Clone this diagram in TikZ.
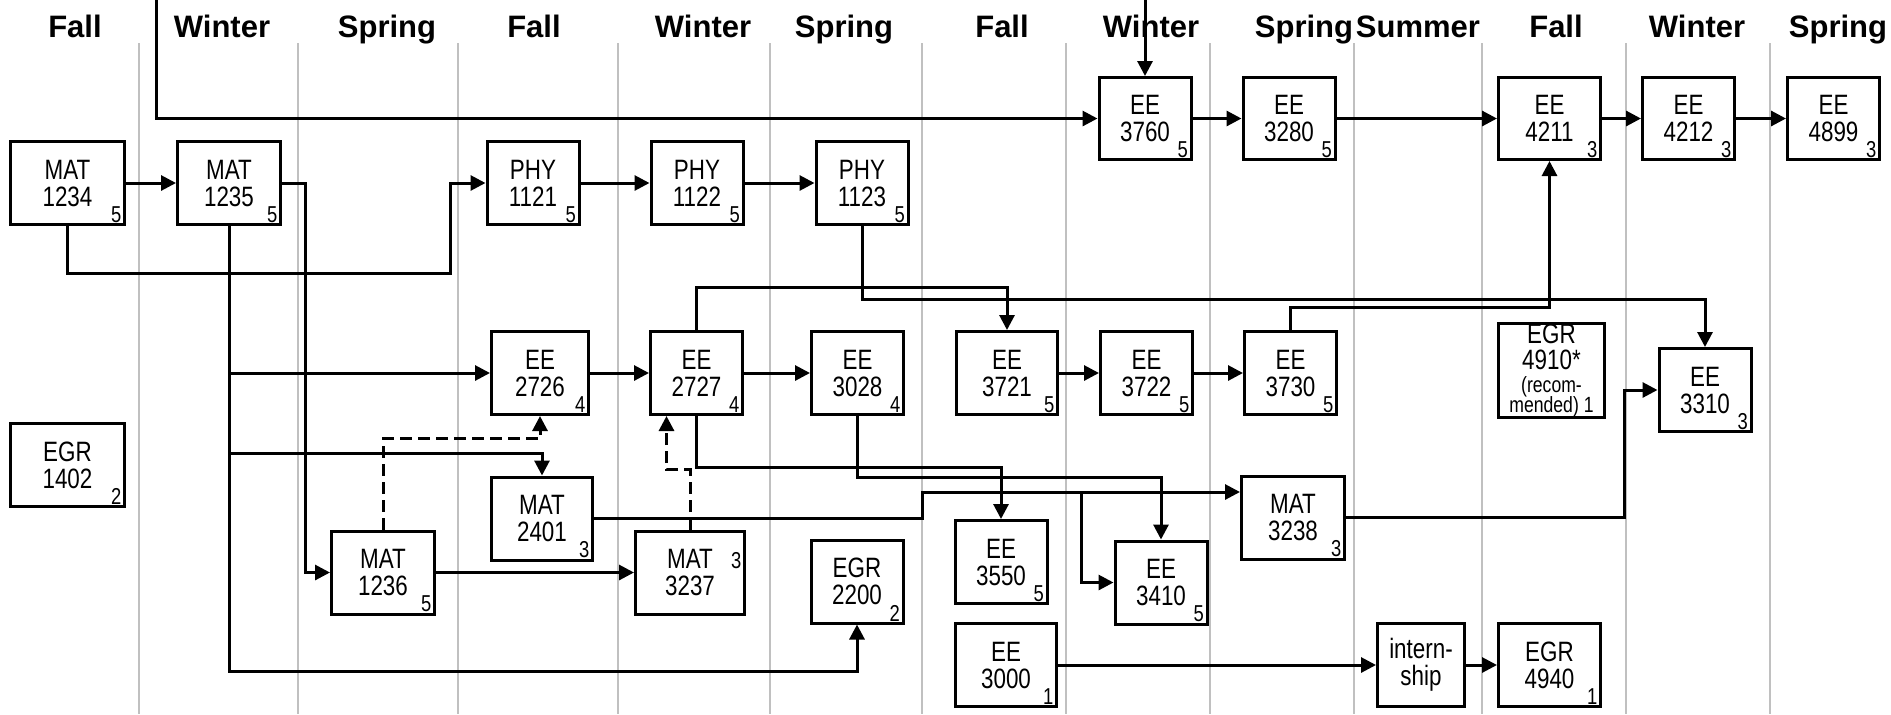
\documentclass[tikz,border=0pt]{standalone}
\usepackage{fontspec}
\setmainfont{Liberation Sans}
\newfontfamily\narrowfont[FakeStretch=0.8]{Liberation Sans}
\usetikzlibrary{arrows.meta,positioning}

\definecolor{gridgray}{RGB}{192,192,192}

\begin{document}
\begin{tikzpicture}[x=0.5pt, y=-0.5pt, line width=1.5pt,
  >={Triangle[length=7.5pt,width=7.5pt]},
  course/.style={draw, fill=white, minimum width=46pt, minimum height=41.5pt,
    inner sep=0pt, align=center, font=\narrowfont\fontsize{14}{13.5}\selectfont},
  credit/.style={anchor=south east, inner xsep=1.6pt, inner ysep=1pt,
    font=\narrowfont\fontsize{11.5}{11.5}\selectfont},
  season/.style={anchor=base, font=\bfseries\fontsize{15.5}{15.5}\selectfont},
  pre/.style={->},
  opt/.style={->, dash pattern=on 6pt off 3pt}]
\useasboundingbox (0,0) rectangle (1891,714);

% term columns
\foreach \x in {139,298,458,618,770,922,1066,1210,1354,1482,1626,1770}
  \draw[gridgray, line width=1pt] (\x,43) -- (\x,714);
\foreach \x/\term [count=\i] in {75/Fall,222/Winter,387/Spring,534/Fall,703/Winter,
    844/Spring,1002/Fall,1151/Winter,1304/Spring,1418/Summer,1556/Fall,1697/Winter,1838/Spring}
  \node[season] (term\i) at (\x,37) {\term};

% courses
\node[course, minimum width=57pt] (m1234) at (67.5,183) {MAT\\1234};
\node[course, minimum width=51.5pt, right=25pt of m1234] (m1235) {MAT\\1235};
\node[course] (p1121) at (533,183) {PHY\\1121};
\node[course, right=34.5pt of p1121] (p1122) {PHY\\1122};
\node[course, right=35pt of p1122] (p1123) {PHY\\1123};
\node[course, minimum width=57pt] (g1402) at (67.5,465) {EGR\\1402};

\node[course, minimum height=41pt] (e3760) at (1145,118.5) {EE\\3760};
\node[course, minimum height=41pt, right=24.5pt of e3760] (e3280) {EE\\3280};
\node[course, minimum height=41pt, minimum width=51pt] (e4211) at (1549.5,118.5) {EE\\4211};
\node[course, minimum height=41pt, right=19.5pt of e4211] (e4212) {EE\\4212};
\node[course, minimum height=41pt, right=25pt of e4212] (e4899) {EE\\4899};

\node[course, minimum width=48.5pt] (e2726) at (540,373) {EE\\2726};
\node[course, right=29.5pt of e2726] (e2727) {EE\\2727};
\node[course, right=33pt of e2727] (e3028) {EE\\3028};
\node[course, minimum width=50.5pt, right=25pt of e3028] (e3721) {EE\\3721};
\node[course, right=20pt of e3721] (e3722) {EE\\3722};
\node[course, right=24.5pt of e3722] (e3730) {EE\\3730};
\node[course, minimum width=53pt, minimum height=46pt] (g4910) at (1551.5,370.5)
  {EGR\\[-0.5pt]4910*\\[-2pt]{\fontsize{11}{11}\selectfont(recom-}\\[-3.5pt]{\fontsize{11}{11}\selectfont mended) 1}};
\node[course] (e3310) at (1705,390) {EE\\3310};

\node[course, minimum width=50.5pt] (m2401) at (542,518.5) {MAT\\2401};
\node[course, minimum width=51.5pt] (m1236) at (383,572.5) {MAT\\1236};
\node[course, minimum width=54.5pt] (m3237) at (690,572.5) {MAT\\3237};
\node[course] (g2200) at (857,581.5) {EGR\\2200};
\node[course] (e3550) at (1001,562) {EE\\3550};
\node[course] (e3410) at (1161,582.5) {EE\\3410};
\node[course, minimum width=51.5pt] (m3238) at (1293,517.5) {MAT\\3238};
\node[course, minimum width=50.5pt] (e3000) at (1006,665) {EE\\3000};
\node[course, minimum width=43.5pt] (intern) at (1421,665) {intern-\\ship};
\node[course, minimum width=51pt, right=15.5pt of intern] (g4940) {EGR\\4940};

% credits
\foreach \n/\c in {m1234/5,m1235/5,p1121/5,p1122/5,p1123/5,g1402/2,e3760/5,e3280/5,
    e4211/3,e4212/3,e4899/3,e2726/4,e2727/4,e3028/4,e3721/5,e3722/5,e3730/5,e3310/3,
    m2401/3,m1236/5,g2200/2,e3550/5,e3410/5,m3238/3,e3000/1,g4940/1}
  \node[credit] (cr-\n) at (\n.south east) {\c};
\node[credit] (cr-m3237) at (m3237.east) {3};

% entry from above
\coordinate (topA) at (156,0);
\coordinate (topB) at (1145,0);
\draw[pre] (topA) |- (e3760.west);
\draw[pre] (topB) -- (e3760.north);

% straight chains
\foreach \a/\b in {m1234/m1235,p1121/p1122,p1122/p1123,e3760/e3280,e3280/e4211,
    e4211/e4212,e4212/e4899,e2726/e2727,e2727/e3028,e3721/e3722,e3722/e3730,
    m1236/m3237,e3000/intern,intern/g4940}
  \draw[pre] (\a) -- (\b);

% routed prerequisites
\draw[pre] (m1234.south) -- ++(0,47) -| ([xshift=-17.5pt]p1121.west) -- (p1121.west);
\draw[pre] (m1235.east) -- ++(23,0) |- (m1236.west);
\draw[pre] (m1235.south) -- ++(0,445) -| (g2200.south);
\draw[pre] (m1235.south |- e2726.west) -- (e2726.west);
\draw[pre] (m1235.south) ++(0,227) -| (m2401.north);
\draw[pre] (p1123.south) -- ++(0,73) -| (e3310.north);
\draw[pre] (e2727.north) -- ++(0,-43) -| (e3721.north);
\draw[pre] (e2727.south) -- ++(0,51) -| (e3550.north);
\draw[pre] (e3028.south) -- ++(0,61) -| (e3410.north);
\draw[pre] (e3730.north) -- ++(0,-23) -| (e4211.south);
\draw[pre] (m2401.east) -- ++(328,0) |- ([yshift=12.75pt]m3238.west);
\coordinate (fork) at (1081,492);
\draw[pre] (fork) |- (e3410.west);
\draw[pre] (m3238.east) -- ++(278,0) |- (e3310.west);
% concurrent
\draw[opt] (m1236.north) -- ++(0,-91) -| (e2726.south);
\draw[opt] (m3237.north) -- ++(0,-60) -| ([xshift=-15pt]e2727.south);
\end{tikzpicture}
\end{document}
